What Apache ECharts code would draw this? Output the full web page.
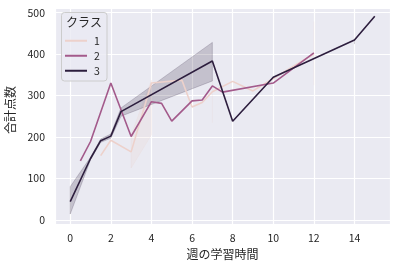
<!DOCTYPE html>
<html>
<head>
<meta charset="utf-8">
<script src="https://cdn.jsdelivr.net/npm/echarts@6/dist/echarts.min.js"></script>
<style>html,body{margin:0;padding:0;background:#fff}#c{width:397px;height:268px}</style>
</head>
<body>
<div id="c"></div>
<script>
// Class 1
var x1 = [1.5, 2, 3, 4, 5.5, 6, 6.5, 7, 8, 9, 10, 12];
var y1 = [155, 192, 164, 330, 337, 272, 283, 309, 334, 311, 341, 400];
var lo1 = [null, null, 125, 205, null, null, null, 234, null, null, null, 325];
var hi1 = [null, null, 205, 337, null, null, null, 342, null, null, null, 478];
// Class 2
var x2 = [0.5, 1, 2, 3, 4, 4.5, 5, 6, 6.5, 7, 7.5, 10, 12];
var y2 = [142, 189, 330, 201, 285, 281, 238, 287, 289, 323, 308, 330, 403];
// Class 3
var x3 = [0, 1, 1.5, 2, 2.5, 7, 8, 10, 14, 15];
var y3 = [44, 148, 191, 202, 261, 383, 238, 344, 434, 491];
var lo3 = [14, 145, 187, 197, 250, 335, null, null, 424, null];
var hi3 = [80, 151, 195, 207, 270, 428, null, null, 436, null];

var classNames = ['1', '2', '3'];
var xTicks = [0, 2, 4, 6, 8, 10, 12, 14];
var yTicks = [0, 100, 200, 300, 400, 500];

var colors = ['#edd1cb', '#a35a8b', '#2d1e3e'];
var FONT = '"Noto Sans CJK JP", "Noto Sans", sans-serif';
var TXT = '#262626';

function pairs(xs, ys) { return xs.map(function (x, i) { return [x, ys[i]]; }); }

function bandSeries(xs, lo, hi, color, z) {
  return {
    type: 'custom',
    z: z,
    silent: true,
    clip: true,
    data: [[xs[0], lo.filter(function(v){return v!=null;})[0]]],
    renderItem: function (params, api) {
      var children = [];
      var i = 0;
      while (i < xs.length) {
        if (lo[i] == null) { i++; continue; }
        var j = i;
        while (j + 1 < xs.length && lo[j + 1] != null) j++;
        var pts = [];
        for (var k = i; k <= j; k++) pts.push(api.coord([xs[k], hi[k]]));
        for (var k2 = j; k2 >= i; k2--) pts.push(api.coord([xs[k2], lo[k2]]));
        if (j === i) {
          children.push({ type: 'polyline', shape: { points: pts },
            style: { stroke: color, opacity: 0.2, lineWidth: 1, fill: null } });
        } else {
          children.push({ type: 'polygon', shape: { points: pts },
            style: { fill: color, stroke: color, opacity: 0.2, lineWidth: 1 } });
        }
        i = j + 1;
      }
      return { type: 'group', children: children };
    }
  };
}

function lineSeries(name, xs, ys, color, z) {
  return {
    name: name, type: 'line', data: pairs(xs, ys), z: z,
    showSymbol: false, symbol: 'none', animation: false,
    lineStyle: { color: color, width: 1.6 }, itemStyle: { color: color },
    emphasis: { disabled: true }
  };
}

var chart = echarts.init(document.getElementById('c'), null, { renderer: 'canvas' });
chart.setOption({
  animation: false,
  backgroundColor: '#ffffff',
  textStyle: { fontFamily: FONT },
  grid: { left: 55, right: 7, top: 8, bottom: 44, show: true, backgroundColor: '#eaeaf2', borderWidth: 0,
    containLabel: false, outerBoundsMode: 'none' },
  xAxis: {
    type: 'value', min: -0.75, max: 15.75, splitNumber: 8,
    axisLine: { show: false }, axisTick: { show: false },
    splitLine: { lineStyle: { color: '#ffffff', width: 1.2 } },
    axisLabel: { color: TXT, fontSize: 10.5, fontFamily: FONT, margin: 9, showMinLabel: false, showMaxLabel: false,
      formatter: function (v) { return xTicks.indexOf(v) >= 0 ? String(v) : ''; } },
    name: '週の学習時間', nameLocation: 'middle', nameGap: 21,
    nameTextStyle: { color: TXT, fontSize: 12, fontFamily: FONT }
  },
  yAxis: {
    type: 'value', min: -10, max: 511, splitNumber: 5,
    axisLine: { show: false }, axisTick: { show: false },
    splitLine: { lineStyle: { color: '#ffffff', width: 1.2 } },
    axisLabel: { color: TXT, fontSize: 10.5, fontFamily: FONT, margin: 10, showMinLabel: false, showMaxLabel: false,
      formatter: function (v) { return yTicks.indexOf(v) >= 0 ? String(v) : ''; } },
    name: '合計点数', nameLocation: 'middle', nameGap: 34, nameRotate: 90,
    nameTextStyle: { color: TXT, fontSize: 12, fontFamily: FONT, padding: [0, 0, 0, 12] }
  },
  legend: {
    data: classNames, orient: 'vertical', left: 65, top: 35.5, padding: 0,
    icon: 'rect', itemWidth: 22, itemHeight: 2, itemGap: 4.5,
    textStyle: { color: TXT, fontSize: 10.5, fontFamily: FONT, padding: [0, 0, 0, 2] },
    z: 20, selectedMode: false
  },
  graphic: [
    { type: 'rect', z: 15, shape: { x: 61.5, y: 12.5, width: 45.5, height: 68.5, r: 3 },
      style: { fill: 'rgba(234,234,242,0.8)', stroke: '#cccccc', lineWidth: 1 } },
    { type: 'text', z: 16, left: 66, top: 16,
      style: { text: 'クラス', fill: TXT, fontSize: 12, fontFamily: FONT } }
  ],
  series: [
    lineSeries(classNames[0], x1, y1, colors[0], 2),
    bandSeries(x1, lo1, hi1, colors[0], 2),
    lineSeries(classNames[1], x2, y2, colors[1], 2),
    lineSeries(classNames[2], x3, y3, colors[2], 2),
    bandSeries(x3, lo3, hi3, colors[2], 2)
  ]
});
</script>
</body>
</html>
